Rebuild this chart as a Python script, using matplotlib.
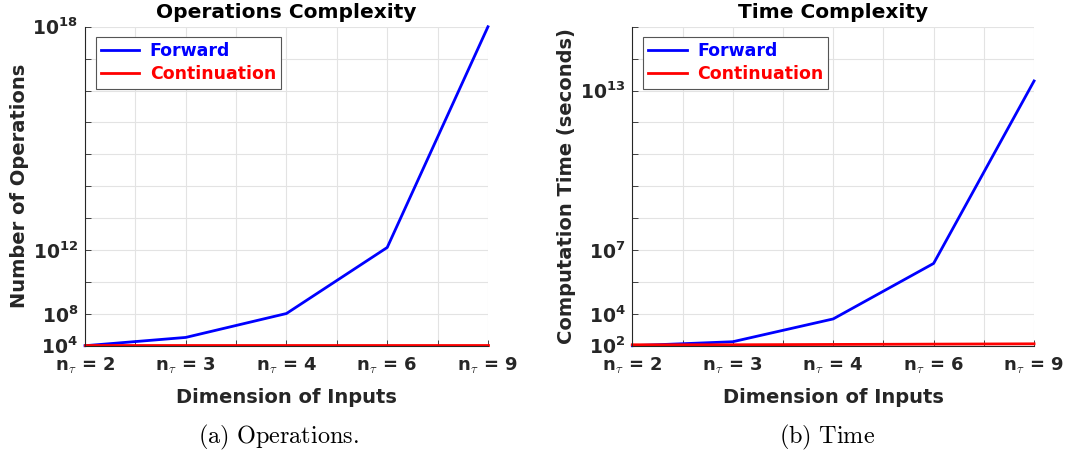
import matplotlib
matplotlib.use("Agg")
import matplotlib.pyplot as plt

# categories on the x axis
dims = [2, 3, 4, 6, 9]

# values in the (linear) plot units of the original figure
ops_forward = [0.0, 0.26, 1.01, 3.08, 10.0]
ops_continuation = [0.03, 0.03, 0.03, 0.03, 0.03]
ops_ticks = [0, 1, 3, 10]
ops_ticklabels = ["4", "8", "12", "18"]

time_forward = [0.0, 0.125, 0.84, 2.58, 8.3]
time_continuation = [0.03, 0.03, 0.04, 0.05, 0.06]
time_ticks = [0, 1, 3, 8]
time_ticklabels = ["2", "4", "7", "13"]

DARK = "#262626"


def style_axes(ax, title, ylabel, yticks, yticklabels, ylabelpad):
    x = list(range(len(dims)))
    ax.set_xlim(0, len(dims) - 1)
    ax.set_ylim(0, 10)

    # major ticks carry labels, minor ticks give the finer MATLAB-like grid
    ax.set_xticks(x)
    ax.set_xticklabels([r"n$_{\tau}$ = %d" % d for d in dims],
                       fontweight="bold", fontsize=13, math_fontfamily="cm")
    ax.set_xticks([i + 0.5 for i in x[:-1]], minor=True)
    ax.set_yticks(yticks)
    ax.set_yticklabels([r"$\mathbf{10^{%s}}$" % t for t in yticklabels],
                       fontsize=13.5)
    ax.set_yticks([i for i in range(11) if i not in yticks], minor=True)

    ax.tick_params(which="both", direction="in", colors=DARK,
                   length=4, width=0.6)
    ax.tick_params(axis="x", pad=7)
    ax.tick_params(axis="y", pad=5)
    ax.grid(True, which="both", color="#e3e3e3", linewidth=0.8)
    ax.set_axisbelow(True)

    for side in ("top", "right"):
        ax.spines[side].set_visible(False)
    for side in ("left", "bottom"):
        ax.spines[side].set_color(DARK)
        ax.spines[side].set_linewidth(0.8)

    ax.set_title(title, fontsize=14.5, fontweight="bold", pad=6)
    ax.set_xlabel("Dimension of Inputs", fontsize=14, fontweight="bold",
                  color=DARK, labelpad=9)
    ax.set_ylabel(ylabel, fontsize=14, fontweight="bold", color=DARK,
                  labelpad=ylabelpad)

    leg = ax.legend(loc="upper left", bbox_to_anchor=(0.027, 0.968),
                    borderaxespad=0, fancybox=False, framealpha=1,
                    edgecolor="#555555", labelcolor="linecolor",
                    prop={"weight": "bold", "size": 12.5},
                    handlelength=2.2, handletextpad=0.6, labelspacing=0.3,
                    borderpad=0.3)
    leg.get_frame().set_linewidth(0.8)


fig = plt.figure(figsize=(10.87, 4.54), dpi=100)
ax1 = fig.add_axes([0.0782, 0.2385, 0.3707, 0.7026])
ax2 = fig.add_axes([0.5817, 0.2385, 0.3696, 0.7026])

x = list(range(len(dims)))
ax1.plot(x, ops_forward, color="blue", lw=2, label="Forward", clip_on=False)
ax1.plot(x, ops_continuation, color="red", lw=2, label="Continuation",
         clip_on=False)
style_axes(ax1, "Operations Complexity", "Number of Operations",
           ops_ticks, ops_ticklabels, 2.5)

ax2.plot(x, time_forward, color="blue", lw=2, label="Forward", clip_on=False)
ax2.plot(x, time_continuation, color="red", lw=2, label="Continuation",
         clip_on=False)
style_axes(ax2, "Time Complexity", "Computation Time (seconds)",
           time_ticks, time_ticklabels, 2.5)

# sub-figure captions
fig.text(0.256, 0.037, r"$\mathrm{(a)\ Operations.}$", ha="center",
         va="center", fontsize=17.5, math_fontfamily="cm")
fig.text(0.761, 0.037, r"$\mathrm{(b)\ Time}$", ha="center",
         va="center", fontsize=17.5, math_fontfamily="cm")

fig.savefig("out.png", dpi=100)
